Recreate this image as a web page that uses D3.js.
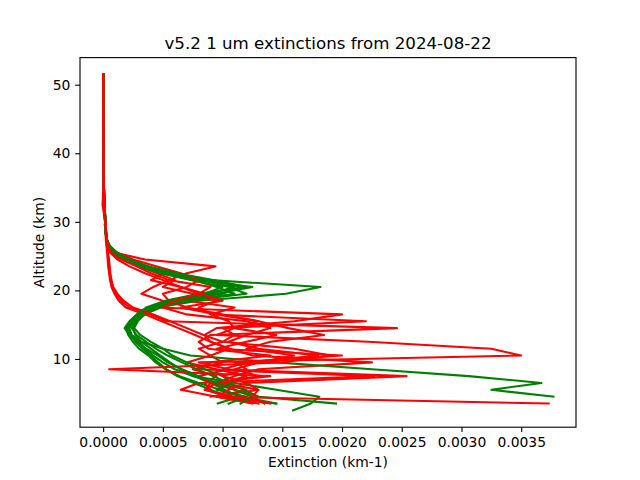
<!DOCTYPE html>
<html>
<head>
<meta charset="utf-8">
<script src="https://cdn.jsdelivr.net/npm/d3@7"></script>
<style>
  html, body { margin: 0; padding: 0; background: #ffffff; }
  svg { display: block; font-family: "DejaVu Sans", sans-serif; }
</style>
</head>
<body>
<svg id="chart" width="640" height="480"></svg>
<script>
// ---- data (extinction values in units of 1e-4 km^-1) ----
const UNIT = 1e-4;
const altitudes = [51.5, 47.5, 43.5, 39.5, 35.5, 32.5, 30.5,
  29.5, 28.5, 27.5, 26.5, 25.5, 24.5, 23.5, 22.5, 21.5, 20.5,
  19.5, 18.5, 17.5, 16.5, 15.5, 14.5, 13.5, 12.5, 11.5, 10.5,
  9.5, 8.5, 7.5, 6.5, 5.5, 4.5, 3.5, 2.5];

const green1 = [0.01,0.01,0.02,0.03,0.06,0.11,0.18, 0.15,0.2,0.28,0.5,1.0,1.9,3.3,5.5,9.0,18.2, 15.3,8.0,4.5,3.3,2.6,2.2,2.4,3.2,4.0,4.8, 5.6,6.5,7.6,9.0,10.2,11.4,9.6,null];
const green2 = [0.01,0.01,0.02,0.03,0.06,0.11,0.17, 0.15,0.2,0.27,0.45,0.95,1.8,3.1,5.0,8.0,12.5, 9.5,6.5,4.2,3.1,2.5,2.1,2.3,2.7,3.3,4.0, 4.6,5.3,6.2,7.6,9.0,10.5,14.5,null];
const green3 = [0.01,0.01,0.02,0.03,0.06,0.11,0.18, 0.16,0.21,0.29,0.5,1.0,1.9,3.2,5.2,8.2,10.5, 12.0,7.0,4.8,3.5,2.8,2.5,2.7,3.2,5.0,7.3, 14.5,22.5,30.6,36.7,32.5,37.7,null,null];
const green4 = [0.01,0.01,0.02,0.03,0.06,0.12,0.19, 0.17,0.22,0.3,0.55,1.1,2.1,3.6,5.8,8.8,11.0, 9.0,5.5,4.0,3.0,2.4,2.0,2.2,3.0,3.5,4.2, 5.0,6.0,7.5,11.0,14.5,18.1,17.4,15.9];
const green5 = [0.01,0.01,0.02,0.03,0.06,0.11,0.18, 0.15,0.21,0.29,0.5,1.05,2.0,3.4,5.6,8.6,11.5, 10.0,6.0,4.3,3.2,2.7,2.4,2.8,3.6,4.4,5.4, 6.6,7.8,9.2,10.5,11.8,13.0,19.5,null];
const green6 = [0.01,0.01,0.02,0.03,0.06,0.11,0.17, 0.15,0.2,0.27,0.45,0.9,1.7,2.9,4.8,7.4,10.0, 8.5,5.8,3.8,2.9,2.3,1.9,2.1,2.5,3.0,3.8, 4.4,5.2,6.4,8.0,9.8,11.6,14.5,null];
const green7 = [0.01,0.01,0.02,0.03,0.06,0.11,0.18, 0.15,0.2,0.28,0.48,0.95,1.8,3.0,5.0,7.6,9.5, 11.0,6.8,4.6,3.4,2.9,2.6,3.1,4.0,5.0,5.8, 7.0,8.5,10.0,10.8,9.5,12.0,10.5,null];
const green8 = [0.01,0.01,0.02,0.03,0.06,0.12,0.19, 0.17,0.23,0.31,0.55,1.15,2.2,3.8,6.2,9.2,12.0, 8.0,5.2,3.6,2.8,2.2,1.8,2.2,2.9,3.6,4.6, 5.4,6.6,8.0,9.5,11.0,12.5,11.5,null];

const red1 = [0.01,0.01,0.02,0.03,0.05,0.1,0.16, 0.2,0.25,0.3,0.4,1.0,3.5,9.4,7.0,5.5,4.2, 3.2,5.0,4.6,20.0,16.0,9.5,8.5,9.0,10.5,9.0, 10.0,7.5,9.5,8.5,9.0,null,null,null];
const red2 = [0.0,0.01,0.01,0.02,0.04,0.08,0.13, 0.18,0.2,0.22,0.28,0.33,0.38,0.42,0.5,0.58,0.7, 0.95,1.3,1.9,3.5,4.9,6.3,7.7,9.0,10.6,12.5, 22.5,13.0,11.0,9.5,12.0,9.5,13.0,null];
const red3 = [0.01,0.01,0.02,0.03,0.05,0.1,0.16, 0.22,0.26,0.3,0.4,0.7,1.6,3.0,4.5,6.0,5.0, 7.5,9.5,8.0,9.0,10.5,11.0,9.5,22.2,32.5,35.0, 8.0,10.5,8.0,9.0,11.0,13.0,null,null];
const red4 = [0.01,0.01,0.02,0.03,0.05,0.1,0.16, 0.2,0.25,0.3,0.45,0.8,1.8,3.8,5.2,4.0,6.5, 8.5,7.0,11.0,9.0,22.0,10.0,11.0,10.0,8.0,9.0, 7.0,9.5,12.0,10.0,13.0,9.0,null,null];
const red5 = [0.0,0.01,0.01,0.02,0.03,-0.05,0.12, 0.2,0.22,0.25,0.3,0.38,0.45,0.5,0.55,0.62,0.75, 1.1,1.5,2.2,3.9,5.3,24.6,9.0,8.0,8.8,14.0, 9.0,8.0,22.7,8.0,6.5,9.5,12.5,null];
const red6 = [0.01,0.01,0.02,0.03,0.05,0.1,0.16, 0.2,0.24,0.3,0.5,1.2,2.5,4.5,6.5,8.0,7.0, 5.0,5.5,7.0,10.0,13.0,15.5,18.5,14.0,12.0,16.0, 13.0,11.0,13.0,9.5,8.5,11.0,null,null];
const red7 = [0.0,0.01,0.01,0.02,0.04,0.08,0.13, 0.2,0.23,0.27,0.32,0.4,0.5,0.55,0.6,0.7,0.85, 1.2,1.7,2.5,4.2,5.6,7.0,8.4,10.0,16.0,19.0, 15.0,0.5,14.0,9.0,8.5,10.5,14.0,null];
const red8 = [0.01,0.01,0.02,0.03,0.05,0.1,0.16, 0.2,0.25,0.3,0.4,0.6,1.2,2.2,3.5,5.0,6.5, 8.0,6.0,5.0,7.0,12.0,14.0,12.0,10.5,13.0,18.0, 12.0,10.0,25.4,12.0,13.0,12.5,13.5,null];
const red9 = [0.01,0.01,0.02,0.03,0.05,0.1,0.16, 0.2,0.24,0.28,0.36,0.6,1.5,2.8,4.0,5.5,9.0, 8.0,10.0,6.5,9.5,13.0,11.0,14.5,12.0,9.5,20.0, 11.0,12.0,10.0,12.0,10.5,9.5,37.3,null];

const greenSeries = [green1, green2, green3, green4, green5, green6, green7, green8];
const redSeries = [red1, red2, red3, red4, red5, red6, red7, red8, red9];

const xTicks = [0, 0.0005, 0.0010, 0.0015, 0.0020, 0.0025, 0.0030, 0.0035];
const yTicks = [10, 20, 30, 40, 50];

const titleText = "v5.2 1 um extinctions from 2024-08-22";
const xLabelText = "Extinction (km-1)";
const yLabelText = "Altitude (km)";

// ---- layout ----
const L = 80, R = 576, T = 57.6, B = 427.2;
const svg = d3.select("#chart");

const allVals = [];
[...greenSeries, ...redSeries].forEach(s => s.forEach(v => { if (v != null) allVals.push(v * UNIT); }));
const xmin = d3.min(allVals), xmax = d3.max(allVals);
const xs = xmax - xmin;
const ymin = d3.min(altitudes), ymax = d3.max(altitudes);
const ys = ymax - ymin;

const x = d3.scaleLinear().domain([xmin - 0.05 * xs, xmax + 0.05 * xs]).range([L, R]);
const y = d3.scaleLinear().domain([ymin - 0.05 * ys, ymax + 0.05 * ys]).range([B, T]);

svg.append("rect").attr("x", 0).attr("y", 0).attr("width", 640).attr("height", 480).attr("fill", "#ffffff");

svg.append("defs").append("clipPath").attr("id", "clip")
  .append("rect").attr("x", L).attr("y", T).attr("width", R - L).attr("height", B - T);

const line = d3.line()
  .defined(d => d.v != null)
  .x(d => x(d.v * UNIT))
  .y(d => y(d.alt));

const plot = svg.append("g").attr("clip-path", "url(#clip)");
const order = [];
for (let i = 0; i < Math.max(greenSeries.length, redSeries.length); i++) {
  if (i < greenSeries.length) order.push({ s: greenSeries[i], c: "#008000" });
  if (i < redSeries.length) order.push({ s: redSeries[i], c: "#ff0000" });
}
order.forEach(o => {
  const pts = o.s.map((v, i) => ({ alt: altitudes[i], v: v }));
  plot.append("path")
    .datum(pts)
    .attr("d", line)
    .attr("fill", "none")
    .attr("stroke", o.c)
    .attr("stroke-width", 2.08)
    .attr("stroke-linejoin", "round")
    .attr("stroke-linecap", "square");
});

// axes
const fs = 13.89;
const xAxis = d3.axisBottom(x).tickValues(xTicks).tickFormat(d3.format(".4f"))
  .tickSize(4.86).tickPadding(4.86).tickSizeOuter(0);
const gx = svg.append("g").attr("transform", `translate(0,${B})`).call(xAxis);
gx.select(".domain").remove();
gx.selectAll("line").attr("stroke", "#000").attr("stroke-width", 1.11);
gx.selectAll("text").attr("font-size", fs).attr("font-family", "DejaVu Sans").attr("fill", "#000");

const yAxis = d3.axisLeft(y).tickValues(yTicks).tickFormat(d3.format("d"))
  .tickSize(4.86).tickPadding(4.86).tickSizeOuter(0);
const gy = svg.append("g").attr("transform", `translate(${L},0)`).call(yAxis);
gy.select(".domain").remove();
gy.selectAll("line").attr("stroke", "#000").attr("stroke-width", 1.11);
gy.selectAll("text").attr("font-size", fs).attr("font-family", "DejaVu Sans").attr("fill", "#000");

// frame
svg.append("rect").attr("x", L).attr("y", T).attr("width", R - L).attr("height", B - T)
  .attr("fill", "none").attr("stroke", "#000").attr("stroke-width", 1.11);

// texts
svg.append("text").attr("x", (L + R) / 2).attr("y", 49.3).attr("text-anchor", "middle")
  .attr("font-size", 16.67).attr("fill", "#000").text(titleText);
svg.append("text").attr("x", (L + R) / 2).attr("y", 467).attr("text-anchor", "middle")
  .attr("font-size", fs).attr("fill", "#000").text(xLabelText);
svg.append("text").attr("transform", `translate(44,${(T + B) / 2}) rotate(-90)`)
  .attr("text-anchor", "middle").attr("font-size", fs).attr("fill", "#000").text(yLabelText);
</script>
</body>
</html>
